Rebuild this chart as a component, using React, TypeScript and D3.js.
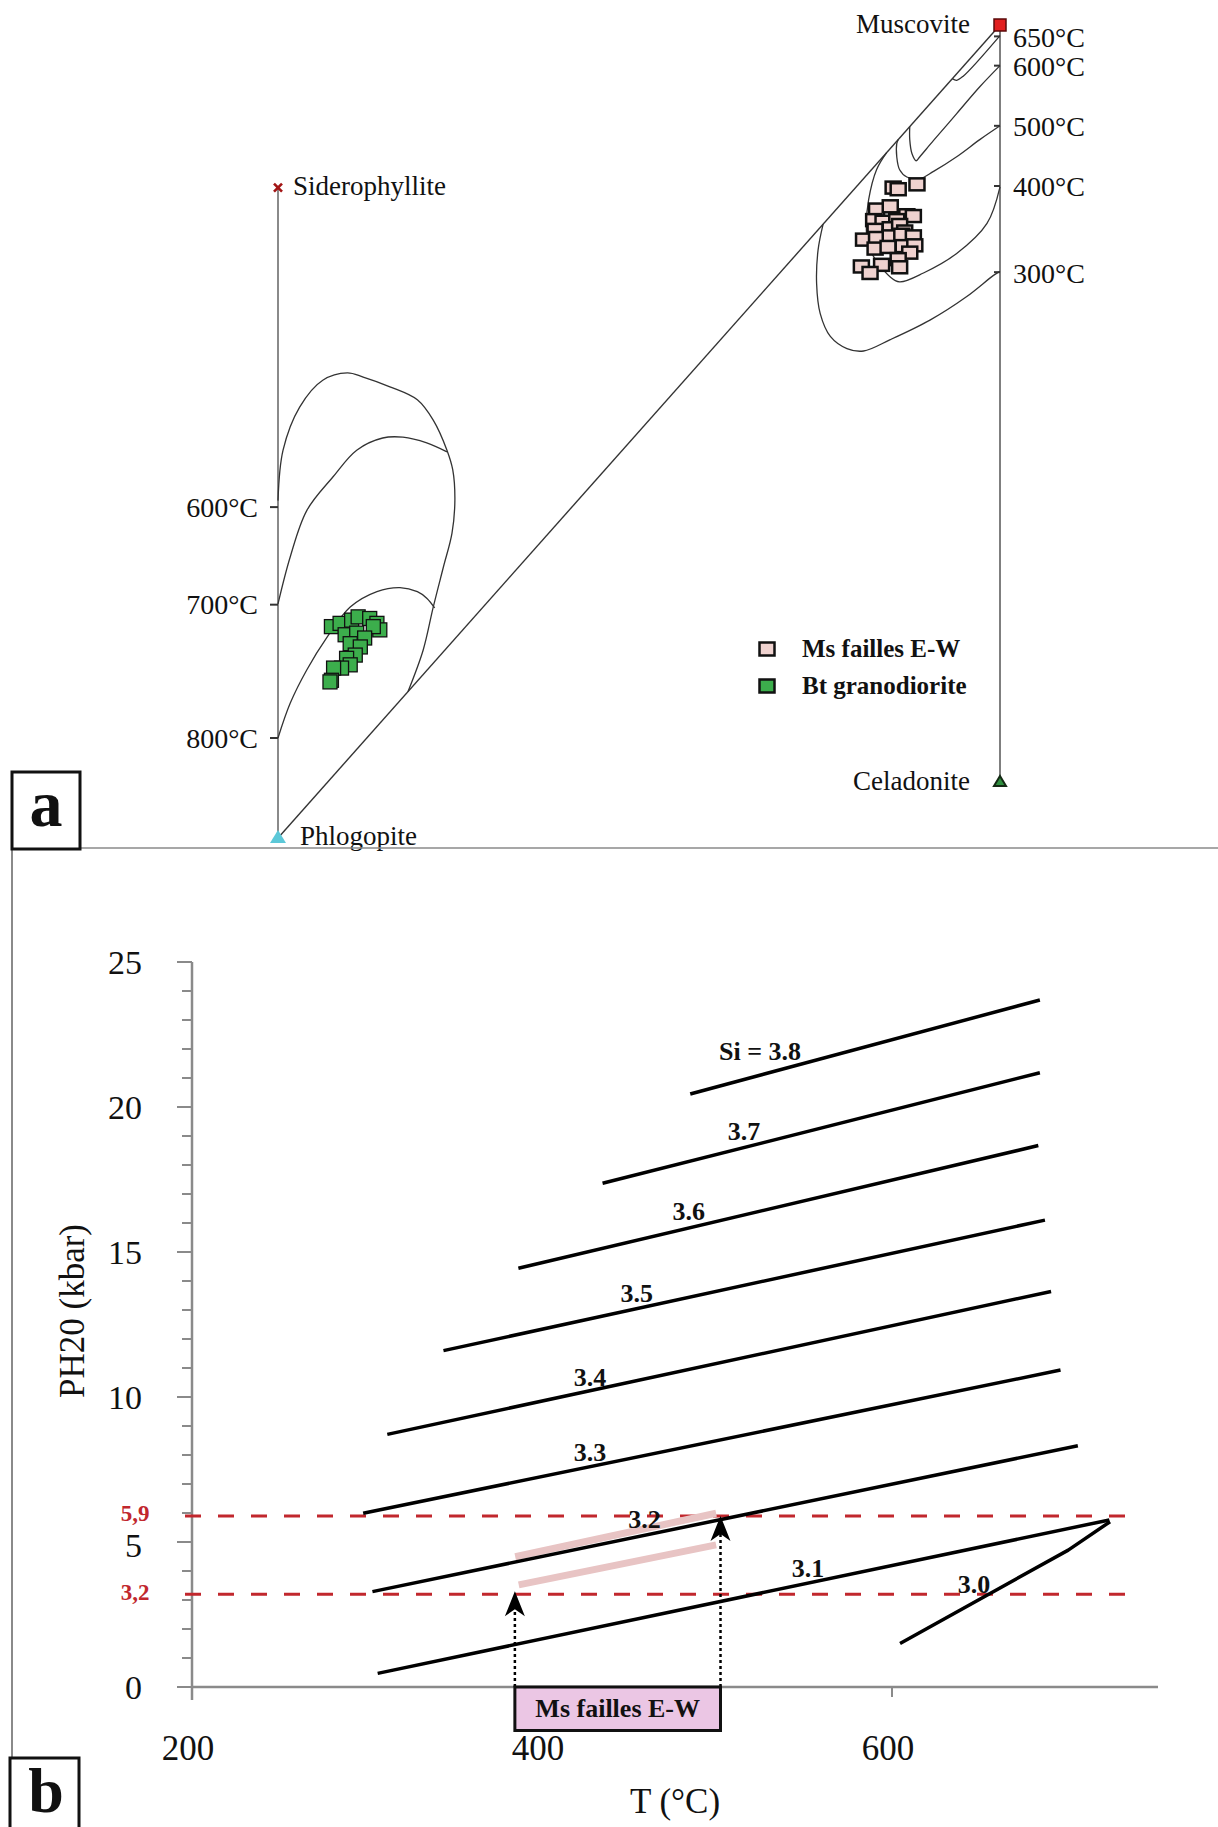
import React from 'react';
import * as d3 from 'd3';

const W = 1218;
const H = 1827;
const SERIF = "'Liberation Serif', 'Times New Roman', serif";

// ---------- Panel a : composition space (0-100 normalised) ----------
const msX = [85.2, 85.9, 88.5, 82.9, 84.8, 87.1, 88.0, 82.5, 83.8, 85.7, 82.7, 84.8, 86.1, 86.8, 81.1, 82.9, 84.8, 86.4, 88.0, 82.7, 84.5, 86.6, 88.2, 87.5, 85.9, 80.8, 83.6, 86.1, 82.0];
const msY = [80.0, 79.8, 80.4, 77.3, 77.7, 76.6, 76.5, 76.0, 75.8, 76.0, 74.8, 75.0, 75.4, 74.6, 73.6, 73.8, 74.0, 74.2, 74.0, 72.5, 72.7, 72.8, 72.9, 72.0, 71.2, 70.3, 70.5, 70.2, 69.5];
const btX = [7.4, 8.6, 10.2, 11.1, 12.7, 13.7, 14.1, 13.2, 9.3, 10.9, 12.0, 10.0, 11.4, 10.7, 9.5, 10.0, 8.8, 7.7, 7.4, 7.2];
const btY = [26.0, 26.4, 26.8, 27.2, 27.0, 26.4, 25.6, 26.0, 25.0, 25.2, 24.6, 23.9, 23.5, 22.5, 22.1, 21.3, 20.9, 20.9, 19.4, 19.2];

const btC600: [number, number][] = [[0, 41.5], [0.7, 47.7], [3.0, 53.0], [6.2, 56.3], [9.6, 57.2], [11.8, 56.7], [15.5, 55.5], [19.3, 53.9], [21.5, 51.4], [23.4, 47.7], [24.2, 45.3], [24.5, 41.6], [24.1, 37.5], [22.9, 33.3], [21.5, 28.4], [20.1, 23.1], [18.0, 18.0]];
const btC700: [number, number][] = [[0, 28.8], [1.7, 34.6], [4.0, 40.3], [7.6, 44.4], [10.9, 47.7], [14.5, 49.2], [17.3, 49.3], [20.6, 48.6], [23.4, 47.5]];
const btC800: [number, number][] = [[0, 12.3], [1.7, 16.6], [4.0, 20.7], [6.8, 24.7], [10.0, 28.4], [13.7, 30.3], [16.9, 30.8], [19.3, 30.3], [20.6, 29.5], [21.7, 28.3]];
const msC650: [number, number][] = [[100, 98.7], [94.9, 93.7], [94.0, 93.2], [93.4, 93.4]];
const msC600: [number, number][] = [[100, 95.0], [97.2, 92.4], [94.0, 89.1], [90.8, 85.8], [88.9, 83.8], [88.4, 83.3], [87.8, 84.2], [87.5, 85.9], [87.5, 87.5]];
const msC500: [number, number][] = [[100, 87.6], [97.2, 85.9], [94.0, 83.8], [90.8, 82.0], [88.9, 81.1], [87.1, 81.3], [86.1, 82.2], [85.7, 83.8], [85.7, 85.4], [85.9, 85.9]];
const msC400: [number, number][] = [[100, 80.1], [98.2, 75.6], [94.0, 71.9], [89.4, 69.5], [86.1, 68.4], [84.8, 69.0], [81.8, 72.7], [81.5, 75.6], [81.8, 78.5], [82.9, 82.2], [84.3, 84.3]];
const msC300: [number, number][] = [[100, 69.7], [99.1, 69.2], [95.4, 66.6], [90.3, 63.7], [84.8, 61.3], [81.1, 59.9], [78.8, 60.2], [76.5, 61.7], [75.1, 64.5], [74.6, 68.2], [74.8, 72.3], [75.5, 75.5]];
const diagonal: [number, number][] = [[0, 0], [100, 100]];

const leftTickY = [40.7, 28.7, 12.3];
const leftTickLabels = ['600°C', '700°C', '800°C'];
const rightTickY = [98.6, 95.0, 87.6, 80.2, 69.6];
const rightTickLabels = ['650°C', '600°C', '500°C', '400°C', '300°C'];
const endMembers = ['Muscovite', 'Siderophyllite', 'Phlogopite', 'Celadonite'];
const endX = [100, 0, 0, 100];
const endY = [100, 80, 0, 6.9];
const legendLabels = ['Ms failles E-W', 'Bt granodiorite'];
const legendFills = ['#efd2cf', '#3cae4c'];

// ---------- Panel b : P-T diagram ----------
const siLabels = ['Si = 3.8', '3.7', '3.6', '3.5', '3.4', '3.3', '3.2', '3.1', '3.0'];
const siLines: [number, number][][] = [
  [[484.7, 20.45], [684.5, 23.69]],
  [[434.6, 17.37], [684.5, 21.18]],
  [[386.5, 14.44], [683.6, 18.67]],
  [[343.7, 11.6], [687.4, 16.1]],
  [[311.6, 8.71], [690.9, 13.64]],
  [[297.8, 5.99], [696.3, 10.93]],
  [[303.1, 3.29], [706.2, 8.32]],
  [[306.1, 0.47], [724.2, 5.76]],
  [[604.6, 1.5], [700.7, 4.72], [724.6, 5.7]],
];
const siLabelT = [524.6, 515.4, 483.9, 454.1, 427.4, 427.4, 458.5, 552, 646.9];
const siLabelP = [21.9, 19.15, 16.39, 13.58, 10.67, 8.08, 5.76, 4.09, 3.55];

const refPressures = [5.9, 3.2];
const refLabels = ['5,9', '3,2'];
const refT = [196, 737];

const msPathUpper: [number, number][] = [[384.7, 4.49], [499.5, 5.99]];
const msPathLower: [number, number][] = [[386.7, 3.52], [499.5, 4.9]];
const arrowT = [384.5, 502];
const arrowTipP = [3.3, 5.9];
const boxBottomP = -1.5;

const yMajor = [0, 5, 10, 15, 20, 25];
const yMinor = d3.range(0, 26, 1);
const xMajor = [200, 400, 600];

export default function App() {
  const xA = d3.scaleLinear().domain([0, 100]).range([278, 1000]);
  const yA = d3.scaleLinear().domain([0, 100]).range([838, 25]);
  const curveA = d3.line<[number, number]>().x(d => xA(d[0])).y(d => yA(d[1])).curve(d3.curveCatmullRom.alpha(0.5));
  const lineA = d3.line<[number, number]>().x(d => xA(d[0])).y(d => yA(d[1]));

  const xB = d3.scaleLinear().domain([200, 752]).range([192, 1158]);
  const yB = d3.scaleLinear().domain([0, 25]).range([1687, 962]);
  const lineB = d3.line<[number, number]>().x(d => xB(d[0])).y(d => yB(d[1]));

  const contours = [btC600, btC700, btC800, msC650, msC600, msC500, msC400, msC300];

  const sq = (cx: number, cy: number, w: number, h: number, fill: string, sw: number, key: string) => (
    <rect key={key} x={cx - w / 2} y={cy - h / 2} width={w} height={h} fill={fill} stroke="#111" strokeWidth={sw} />
  );

  return (
    <svg width={W} height={H} style={{ position: 'absolute', left: 0, top: 0, background: '#fff' }} fontFamily={SERIF}>
      <rect x={0} y={0} width={W} height={H} fill="#fff" />
      {/* ===== Panel a ===== */}
      <line x1={xA(0)} y1={yA(endY[1])} x2={xA(0)} y2={yA(0)} stroke="#8a8a8a" strokeWidth={2} />
      <line x1={xA(100)} y1={yA(100)} x2={xA(100)} y2={yA(endY[3])} stroke="#555" strokeWidth={1.5} />
      <path d={lineA(diagonal) || ''} fill="none" stroke="#333" strokeWidth={1.4} />
      {contours.map((c, i) => (
        <path key={'c' + i} d={curveA(c) || ''} fill="none" stroke="#333" strokeWidth={1.3} />
      ))}
      {leftTickY.map((v, i) => (
        <g key={'lt' + i}>
          <line x1={xA(0) - 8} x2={xA(0)} y1={yA(v)} y2={yA(v)} stroke="#333" strokeWidth={2} />
          <text x={258} y={yA(v)} textAnchor="end" dominantBaseline="central" fontSize={28} fill="#111">{leftTickLabels[i]}</text>
        </g>
      ))}
      {rightTickY.map((v, i) => (
        <g key={'rt' + i}>
          <line x1={xA(100) - 6} x2={xA(100)} y1={yA(v)} y2={yA(v)} stroke="#333" strokeWidth={2} />
          <text x={1013} y={yA(v) + 1} dominantBaseline="central" fontSize={28} fill="#111">{rightTickLabels[i]}</text>
        </g>
      ))}
      {msX.map((x, i) => sq(xA(x), yA(msY[i]), 15, 12, '#efd2cf', 2.5, 'ms' + i))}
      {btX.map((x, i) => sq(xA(x), yA(btY[i]), 14, 14, '#3cae4c', 1.3, 'bt' + i))}
      {/* end members */}
      <rect x={xA(endX[0]) - 6} y={yA(endY[0]) - 6} width={12} height={12} fill="#e21e1e" stroke="#5a0a0a" strokeWidth={1.5} />
      <text x={970} y={33} textAnchor="end" fontSize={27} fill="#111">{endMembers[0]}</text>
      <g transform={`translate(${xA(endX[1])},${yA(endY[1])})`} stroke="#a31515" strokeWidth={2.6}>
        <line x1={-4} y1={-4} x2={4} y2={4} />
        <line x1={-4} y1={4} x2={4} y2={-4} />
      </g>
      <text x={293} y={195} fontSize={27} fill="#111">{endMembers[1]}</text>
      <path d={`M${xA(endX[2])},${yA(endY[2]) - 8} L${xA(endX[2]) + 8},${yA(endY[2]) + 5} L${xA(endX[2]) - 8},${yA(endY[2]) + 5} Z`} fill="#5cc8d8" />
      <text x={300} y={845} fontSize={27} fill="#111">{endMembers[2]}</text>
      <path d={`M${xA(endX[3])},${yA(endY[3]) - 6} L${xA(endX[3]) + 6},${yA(endY[3]) + 4} L${xA(endX[3]) - 6},${yA(endY[3]) + 4} Z`} fill="#2f8f3f" stroke="#142a14" strokeWidth={2} />
      <text x={970} y={790} textAnchor="end" fontSize={27} fill="#111">{endMembers[3]}</text>
      {/* legend */}
      {legendLabels.map((l, i) => (
        <g key={'lg' + i}>
          {sq(767, 649 + i * 37, 15, 13, legendFills[i], 2.5, 'lgs' + i)}
          <text x={802} y={657 + i * 37} fontSize={25} fontWeight="bold" fill="#111">{l}</text>
        </g>
      ))}
      {/* frame + panel labels */}
      <line x1={12} y1={848} x2={W} y2={848} stroke="#8a8a8a" strokeWidth={1.5} />
      <line x1={12} y1={848} x2={12} y2={1758} stroke="#8a8a8a" strokeWidth={2} />
      <rect x={12} y={772} width={68} height={77} fill="#fff" stroke="#111" strokeWidth={3} />
      <text x={46} y={826} textAnchor="middle" fontSize={66} fontWeight="bold" fill="#111">a</text>
      <rect x={10} y={1758} width={69} height={80} fill="#fff" stroke="#111" strokeWidth={3} />
      <text x={46} y={1812} textAnchor="middle" fontSize={64} fontWeight="bold" fill="#111">b</text>

      {/* ===== Panel b ===== */}
      <line x1={xB(200)} y1={yB(25)} x2={xB(200)} y2={1700} stroke="#8a8a8a" strokeWidth={2.5} />
      <line x1={xB(200)} y1={yB(0)} x2={xB(752)} y2={yB(0)} stroke="#8a8a8a" strokeWidth={2.5} />
      {yMinor.map(v => (
        <line key={'ym' + v} x1={xB(200) - (v % 5 === 0 ? 15 : 10)} x2={xB(200)} y1={yB(v)} y2={yB(v)} stroke="#8a8a8a" strokeWidth={2} />
      ))}
      {yMajor.map(v => (
        <text key={'yl' + v} x={142} y={yB(v) + (v === 5 ? 3 : 0)} textAnchor="end" dominantBaseline="central" fontSize={34} fill="#111">{v}</text>
      ))}
      {xMajor.map(v => (
        <g key={'xt' + v}>
          <line x1={xB(v)} x2={xB(v)} y1={yB(0)} y2={yB(0) + 10} stroke="#8a8a8a" strokeWidth={2} />
          <text x={xB(v) - 4} y={1760} textAnchor="middle" fontSize={35} fill="#111">{v}</text>
        </g>
      ))}
      <text transform={`translate(72,1311) rotate(-90)`} textAnchor="middle" dominantBaseline="central" fontSize={35} fill="#111">PH20 (kbar)</text>
      <text x={675} y={1813} textAnchor="middle" fontSize={35} fill="#111">T (°C)</text>

      {/* reference pressure dashed lines */}
      {refPressures.map((p, i) => (
        <g key={'rp' + i}>
          <line x1={xB(refT[0])} x2={xB(refT[1])} y1={yB(p)} y2={yB(p)} stroke="#c1272d" strokeWidth={3} strokeDasharray="16,17" />
          <text x={135} y={yB(p) - 2} textAnchor="middle" dominantBaseline="central" fontSize={23} fontWeight="bold" fill="#c1272d">{refLabels[i]}</text>
        </g>
      ))}

      {/* Ms path (pink) */}
      <path d={lineB(msPathUpper) || ''} stroke="#e8c4c4" strokeWidth={7} fill="none" />
      <path d={lineB(msPathLower) || ''} stroke="#e8c4c4" strokeWidth={7} fill="none" />

      {/* Si isopleths */}
      {siLines.map((l, i) => (
        <path key={'si' + i} d={lineB(l) || ''} fill="none" stroke="#000" strokeWidth={3.5} strokeLinejoin="round" />
      ))}
      {siLabels.map((l, i) => (
        <text key={'sl' + i} x={xB(siLabelT[i])} y={yB(siLabelP[i])} textAnchor="middle" dominantBaseline="central" fontSize={26} fontWeight="bold" fill="#111">{l}</text>
      ))}

      {/* dotted arrows */}
      {arrowT.map((t, i) => {
        const x = xB(t);
        const tip = yB(arrowTipP[i]);
        return (
          <g key={'ar' + i}>
            <line x1={x} x2={x} y1={yB(0)} y2={tip + 18} stroke="#000" strokeWidth={2.5} strokeDasharray="3,3" />
            <path d={`M${x},${tip} L${x + 10},${tip + 25} L${x},${tip + 18} L${x - 10},${tip + 25} Z`} fill="#000" />
          </g>
        );
      })}
      <rect x={xB(arrowT[0])} y={yB(0)} width={xB(arrowT[1]) - xB(arrowT[0])} height={yB(boxBottomP) - yB(0)} fill="#ebc6e4" stroke="#111" strokeWidth={3} />
      <text x={(xB(arrowT[0]) + xB(arrowT[1])) / 2} y={(yB(0) + yB(boxBottomP)) / 2} textAnchor="middle" dominantBaseline="central" fontSize={26} fontWeight="bold" fill="#111">{legendLabels[0]}</text>
    </svg>
  );
}
